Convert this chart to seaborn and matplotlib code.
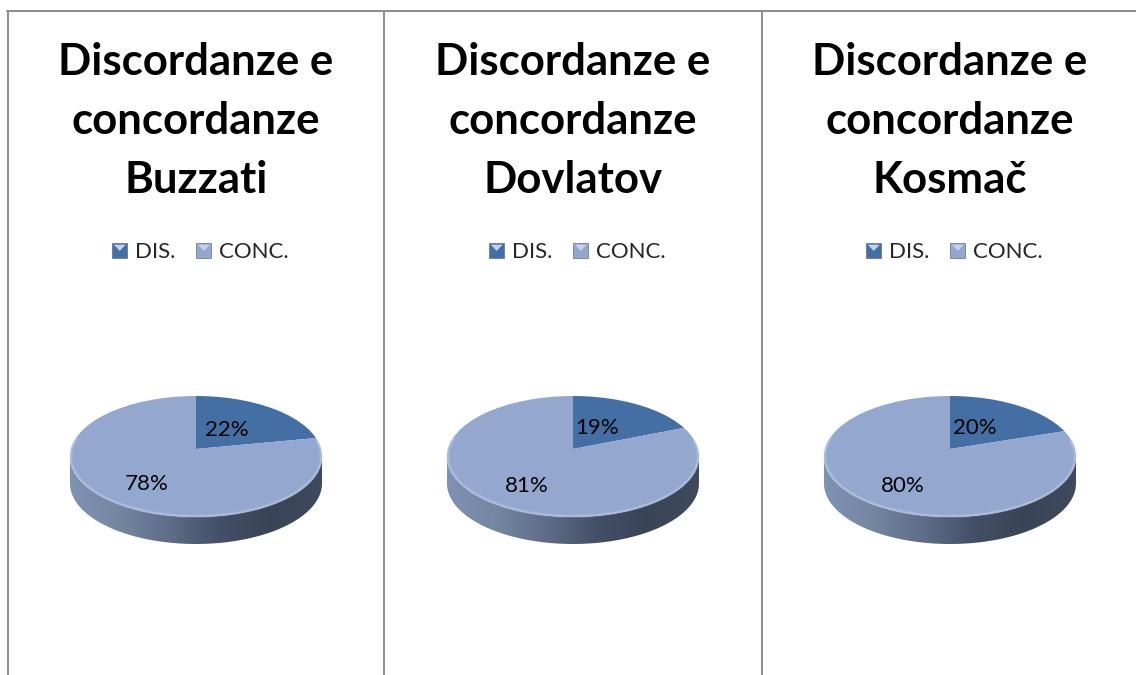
import numpy as np
import matplotlib
matplotlib.use("Agg")
import matplotlib.pyplot as plt
import seaborn as sns
from matplotlib.colors import LinearSegmentedColormap
from matplotlib.legend_handler import HandlerBase
from matplotlib.lines import Line2D
from matplotlib.patches import Ellipse, PathPatch, Polygon, Rectangle, Wedge
from matplotlib.path import Path

authors = ["Buzzati", "Dovlatov", "Kosmač"]
categories = ["DIS.", "CONC."]
dis_values = [22, 19, 20]
conc_values = [78, 81, 80]
title_base = "Discordanze e\nconcordanze\n"

sns.set_theme(style="white")
plt.rcParams["font.family"] = ["Lato", "DejaVu Sans"]
colors = sns.color_palette(["#436fa5", "#93a7cf"])
W, H = 1136, 675
RX, RY, DEPTH = 126, 60.5, 27
CENTERS = [196, 573, 950]
CY = 456.5
APEX = 7.5 / RY
LABEL_OFFSETS = [((31, 27), (-49, -27)), ((24, 29), (-46, -30)), ((25, 29), (-47, -29))]
side_cmap = LinearSegmentedColormap.from_list(
    "side", ["#7f92b3", "#74869f", "#5d6c88", "#434f66", "#394456", "#3f4a5c"])


class GradHandler(HandlerBase):
    def create_artists(self, legend, orig, x0, y0, width, height, fontsize, trans):
        s = 11
        x = x0 + width - s
        y = y0 + height / 2 - s / 2
        base = orig.get_facecolor()
        sq = Rectangle((x, y), s, s, facecolor=base,
                       edgecolor="#5b6f8e", lw=0.5, transform=trans)
        tri = Polygon([(x + 1.2, y + s - 1.5), (x + s - 1.2, y + s - 1.5), (x + s / 2, y + s / 2 - 0.5)],
                      closed=True, facecolor="#c3d2ea", edgecolor="none", transform=trans)
        return [sq, tri]


fig = plt.figure(figsize=(W / 100, H / 100), dpi=100, facecolor="white")

# Frame lines of the page table
for xpos in (7.5, 384, 762):
    fig.add_artist(Line2D([xpos / W] * 2, [0, 1 - 10.5 / H], color="#8c8c8c", lw=1.4))
fig.add_artist(Line2D([7 / W, 1], [1 - 10.5 / H] * 2, color="#8c8c8c", lw=1.4))

t = np.linspace(np.pi, 2 * np.pi, 121)
rim = np.linspace(np.pi * 0.9, np.pi * 2.08, 160)
for i, (cx, author) in enumerate(zip(CENTERS, authors)):
    fig.text(cx / W, 1 - 121 / H, title_base + author, ha="center", va="center",
             fontsize=31.5, fontweight="bold", color="black", linespacing=1.57)

    ax_w, ax_h = 300, 200
    ax = fig.add_axes([(cx - ax_w / 2) / W, 1 - (CY + ax_h / 2 + 15) / H, ax_w / W, ax_h / H])
    ax.set_facecolor("none")

    # Side of the disc
    xs = np.cos(t)
    ys = np.sin(t)
    dz = DEPTH / RY
    verts = np.r_[np.c_[xs, ys], np.c_[xs[::-1], ys[::-1] - dz], [[xs[0], ys[0]]]]
    side = PathPatch(Path(verts), facecolor="none", edgecolor="none")
    ax.add_patch(side)
    grad = ax.imshow(np.linspace(0, 1, 256)[None, :], extent=(-1, 1, -2, 1), cmap=side_cmap,
                     aspect="auto", zorder=1)
    grad.set_clip_path(side)

    # Top face: oversized wedges from the apex, clipped to the ellipse
    wedges, _, autotexts = ax.pie(
        [dis_values[i], conc_values[i]], colors=colors, startangle=90, counterclock=False,
        center=(0, APEX), radius=1.7, autopct="%d%%", pctdistance=0.3,
        textprops={"fontsize": 16, "color": "black"})
    clip = Ellipse((0, 0), 2, 2, facecolor="none", edgecolor="none", transform=ax.transData)
    ax.add_patch(clip)
    for w in wedges:
        w.set_clip_on(True)
        w.set_clip_path(clip)
        w.set_zorder(2)
        w.set_linewidth(0)
    for txt, (dx, dy) in zip(autotexts, LABEL_OFFSETS[i]):
        txt.set_position((dx / RX, dy / RY))
        txt.set_zorder(5)

    # Soft rim highlight along the near edge only
    for lw, alpha in ((2.4, 0.25), (1.2, 0.45)):
        ax.plot(0.993 * np.cos(rim), 0.985 * np.sin(rim), color="#bccbe8", lw=lw, alpha=alpha,
                zorder=3, solid_capstyle="round")

    ax.set_aspect("auto")
    ax.set_xlim(-ax_w / 2 / RX, ax_w / 2 / RX)
    ax.set_ylim(-(ax_h / 2 + 15) / RY, (ax_h / 2 - 15) / RY)
    ax.axis("off")

    ax.legend(wedges, categories, ncol=2, loc="center", frameon=False,
              bbox_to_anchor=((cx + 1) / W, 1 - 252 / H), bbox_transform=fig.transFigure,
              fontsize=16, handler_map={Wedge: GradHandler()}, handlelength=1.0,
              handletextpad=0.35, columnspacing=0.62, borderpad=0)

fig.savefig("out.png", dpi=100, facecolor="white")
